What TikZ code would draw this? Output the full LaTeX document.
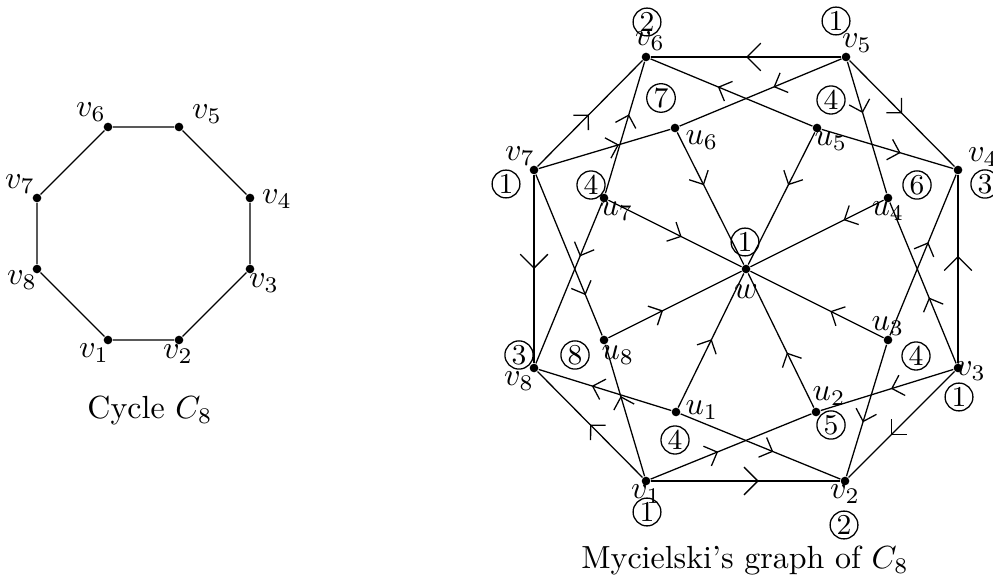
\documentclass[tikz,border=0pt]{standalone}
\usetikzlibrary{arrows.meta,decorations.markings}
\begin{document}
\begin{tikzpicture}[x=0.3125pt,y=-0.3125pt,
  dot/.style={circle,fill,inner sep=0pt,minimum size=2.7pt},
  lab/.style={inner sep=0pt},
  col/.style={circle,draw,inner sep=0.4pt,font=\small},
  am/.style={postaction={decorate},decoration={markings,mark=at position #1 with {\arrow{Straight Barb[angle=90:4.7pt,line width=0.4pt]}}}},
  amb/.style={postaction={decorate},decoration={markings,mark=at position #1 with {\arrow{Straight Barb[angle=90:6.1pt,line width=0.4pt]}}}}]
\useasboundingbox (0,0) rectangle (993,581);
% ---- Cycle C8 ----
\node[dot] (L1) at (108,340) {};
\node[dot] (L2) at (179,340) {};
\node[dot] (L3) at (250,269) {};
\node[dot] (L4) at (250,198) {};
\node[dot] (L5) at (179,127) {};
\node[dot] (L6) at (108,127) {};
\node[dot] (L7) at (37,198) {};
\node[dot] (L8) at (37,269) {};
\draw (L1) -- (L2) -- (L3) -- (L4) -- (L5) -- (L6) -- (L7) -- (L8) -- (L1);
\node[lab] (l1) at (94,353) {$v_1$};
\node[lab] (l2) at (178,354) {$v_2$};
\node[lab] (l3) at (264,283) {$v_3$};
\node[lab] (l4) at (277,199) {$v_4$};
\node[lab] (l5) at (207,114) {$v_5$};
\node[lab] (l6) at (91,112) {$v_6$};
\node[lab] (l7) at (20,184) {$v_7$};
\node[lab] (l8) at (22,280) {$v_8$};
\node[lab] (capL) at (150,411) {Cycle $C_8$};
% ---- Mycielski graph ----
\node[dot] (V1) at (646,481) {};
\node[dot] (V2) at (845,481) {};
\node[dot] (V3) at (958,368) {};
\node[dot] (V4) at (958,170) {};
\node[dot] (V5) at (846,57) {};
\node[dot] (V6) at (646,57) {};
\node[dot] (V7) at (534,170) {};
\node[dot] (V8) at (534,368) {};
\node[dot] (W) at (746,269) {};
\node[dot] (U1) at (676,412) {};
\node[dot] (U2) at (816,412) {};
\node[dot] (U3) at (888,340) {};
\node[dot] (U4) at (888,198) {};
\node[dot] (U5) at (817,128) {};
\node[dot] (U6) at (675,128) {};
\node[dot] (U7) at (604,198) {};
\node[dot] (U8) at (604,340) {};
% cycle edges
\draw[amb=0.57] (V1) -- (V2);
\draw[am=0.6] (V3) -- (V2);
\draw[amb=0.57] (V3) -- (V4);
\draw[am=0.5] (V5) -- (V4);
\draw[amb=0.5] (V5) -- (V6);
\draw[am=0.49] (V7) -- (V6);
\draw[amb=0.5] (V7) -- (V8);
\draw[am=0.5] (V1) -- (V8);
% u-v edges
\draw[am=0.6] (U1) -- (V8);
\draw[am=0.58] (U1) -- (V2);
\draw[am=0.42] (V1) -- (U2);
\draw[am=0.47] (V3) -- (U2);
\draw[am=0.59] (U3) -- (V2);
\draw[am=0.58] (U3) -- (V4);
\draw[am=0.41] (V3) -- (U4);
\draw[am=0.39] (V5) -- (U4);
\draw[am=0.6] (U5) -- (V4);
\draw[am=0.585] (U5) -- (V6);
\draw[am=0.42] (V5) -- (U6);
\draw[am=0.61] (V7) -- (U6);
\draw[am=0.6] (U7) -- (V6);
\draw[am=0.335] (U7) -- (V8);
\draw[am=0.75] (V7) -- (U8);
\draw[am=0.61] (V1) -- (U8);
% w edges
\draw[am=0.51] (U1) -- (W);
\draw[am=0.41] (U2) -- (W);
\draw[am=0.4] (U3) -- (W);
\draw[am=0.3] (U4) -- (W);
\draw[am=0.4] (U5) -- (W);
\draw[am=0.4] (U6) -- (W);
\draw[am=0.55] (U7) -- (W);
\draw[am=0.41] (U8) -- (W);
% labels
\node[lab] (lv1) at (646,494) {$v_1$};
\node[lab] (lv2) at (845,494) {$v_2$};
\node[lab] (lv3) at (971,371) {$v_3$};
\node[lab] (lv4) at (983,157) {$v_4$};
\node[lab] (lv5) at (857,43) {$v_5$};
\node[lab] (lv6) at (650,41) {$v_6$};
\node[lab] (lv7) at (520,156) {$v_7$};
\node[lab] (lv8) at (519,381) {$v_8$};
\node[lab] (lw) at (746,292) {$w$};
\node[lab] (lu1) at (702,410) {$u_1$};
\node[lab] (lu2) at (829,396) {$u_2$};
\node[lab] (lu3) at (888,326) {$u_3$};
\node[lab] (lu4) at (888,211) {$u_4$};
\node[lab] (lu5) at (831,141) {$u_5$};
\node[lab] (lu6) at (702,140) {$u_6$};
\node[lab] (lu7) at (617,211) {$u_7$};
\node[lab] (lu8) at (618,355) {$u_8$};
% colours
\node[col] (cv1) at (647,512) {1};
\node[col] (cv2) at (844,525) {2};
\node[col] (cv3) at (959,397) {1};
\node[col] (cv4) at (985,184) {3};
\node[col] (cv5) at (836,21) {1};
\node[col] (cv6) at (647,22) {2};
\node[col] (cv7) at (506,184) {1};
\node[col] (cv8) at (519,355) {3};
\node[col] (cw) at (745,242) {1};
\node[col] (cu1) at (675,440) {4};
\node[col] (cu2) at (831,425) {5};
\node[col] (cu3) at (916,356) {4};
\node[col] (cu4) at (917,185) {6};
\node[col] (cu5) at (831,100) {4};
\node[col] (cu6) at (661,98) {7};
\node[col] (cu7) at (591,185) {4};
\node[col] (cu8) at (575,355) {8};
\node[lab] (capR) at (745,561) {Mycielski's graph of $C_8$};
\end{tikzpicture}
\end{document}
